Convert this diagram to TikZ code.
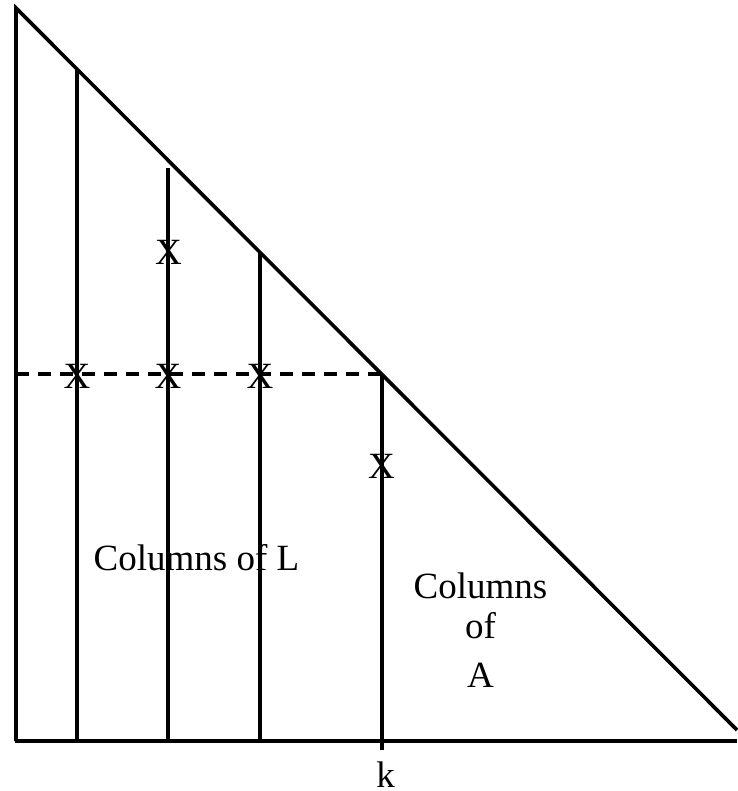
\documentclass[tikz,border=0pt]{standalone}
\usepackage{fontspec}
\setmainfont{Liberation Serif}
\begin{document}
\begin{tikzpicture}[x=1pt,y=-1pt,
  edge/.style={line width=3.6pt},
  col/.style={line width=3.2pt},
  dashline/.style={line width=3.6pt,dash pattern=on 13pt off 9pt},
  xmark/.style={inner sep=0pt,font=\fontsize{37}{40}\selectfont},
  lbl/.style={inner sep=0pt,anchor=base,font=\fontsize{37}{40}\selectfont}]
\useasboundingbox (0,0) rectangle (737,791);
% triangle corners
\coordinate (tl) at (16,8);
\coordinate (bl) at (16,741);
\coordinate (br) at (737,741);
\coordinate (he) at (737,730);
\draw[edge] (bl) -- (tl) -- (he);
\draw[edge] (15,741) coordinate (bs) -- (br);
% columns
\coordinate (c1t) at (77,69);   \coordinate (c1b) at (77,741);
\coordinate (c2t) at (168,168); \coordinate (c2b) at (168,741);
\coordinate (c3t) at (260,252); \coordinate (c3b) at (260,741);
\coordinate (c4t) at (382,374); \coordinate (c4b) at (382,750);
\draw[col] (c1t) -- (c1b);
\draw[col] (c2t) -- (c2b);
\draw[col] (c3t) -- (c3b);
\draw[col] (c4t) -- (c4b);
% dashed row
\coordinate (dl) at (16,374);
\draw[dashline] (dl) -- (c4t);
% X marks
\node[xmark] (x0) at (168.5,252.5) {X};
\node[xmark] (x1) at (77,376) {X};
\node[xmark] (x2) at (168,376) {X};
\node[xmark] (x3) at (260,376) {X};
\node[xmark] (x4) at (381.5,466.5) {X};
% labels
\node[lbl] (cl) at (196.5,570) {Columns of L};
\node[lbl] (ca1) at (480.5,598) {Columns};
\node[lbl] (ca2) at (480.5,638) {of};
\node[lbl] (ca3) at (480.5,687) {A};
\node[lbl] (k) at (385.5,787) {k};
\end{tikzpicture}
\end{document}
